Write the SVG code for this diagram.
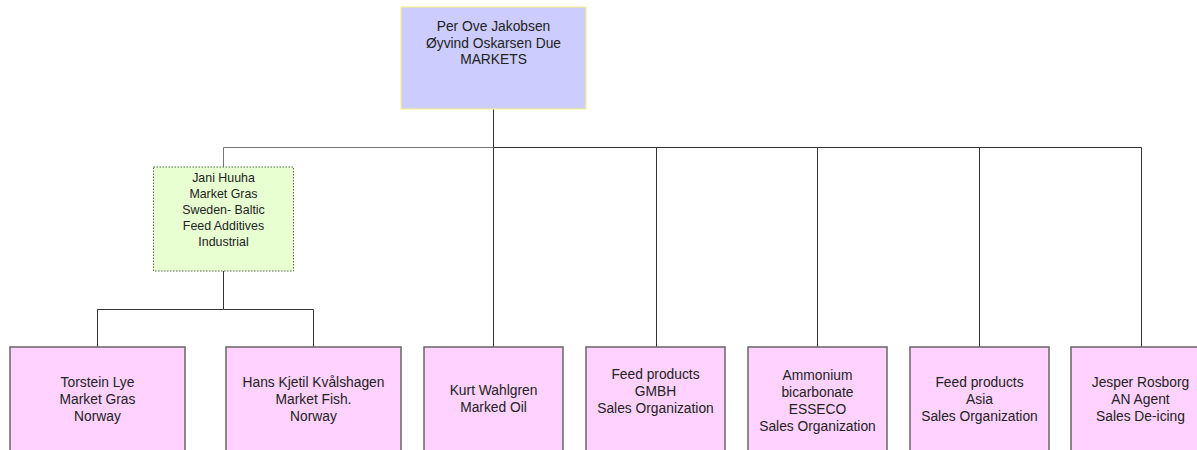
<svg xmlns="http://www.w3.org/2000/svg" width="1197" height="450" viewBox="0 0 1197 450">
<style>
text{font-family:"Liberation Sans",Arial,sans-serif;fill:#222;text-anchor:middle}
.big{font-size:13.8px}
.small{font-size:12.4px}
.top{fill:#ccccff;stroke:#f5f08c;stroke-width:1.2}
.mid{fill:#e8ffd2;stroke:#4f6b3a;stroke-width:1;stroke-dasharray:1.5 1.5}
.leaf{fill:#ffd2ff;stroke:#666;stroke-width:1.5}
.c{fill:none;stroke:#333;stroke-width:1}
.cg{fill:none;stroke:#777;stroke-width:1}
</style>
<rect width="1197" height="450" fill="#fff"/>
<g id="connectors">
<path class="c" d="M493.5 109V147.5H1141.5V347"/>
<path class="cg" d="M493.5 147.5H223.5V167"/>
<path class="c" d="M493.5 147.5V347"/>
<path class="c" d="M656.5 147.5V347"/>
<path class="c" d="M817.5 147.5V347"/>
<path class="c" d="M979.5 147.5V347"/>
<path class="c" d="M223.5 271V309.5H97.5V347"/>
<path class="c" d="M223.5 309.5H313.5V347"/>
</g>
<g id="n-top">
<rect class="top" x="401" y="7" width="185" height="102"/>
<text class="big" x="493.5" y="31">Per Ove Jakobsen</text>
<text class="big" x="493.5" y="47.5">Øyvind Oskarsen Due</text>
<text class="big" x="493.5" y="64">MARKETS</text>
</g>
<g id="n-jani">
<rect class="mid" x="153.5" y="167" width="140" height="104"/>
<text class="small" x="223.5" y="182">Jani Huuha</text>
<text class="small" x="223.5" y="198">Market Gras</text>
<text class="small" x="223.5" y="214">Sweden- Baltic</text>
<text class="small" x="223.5" y="230">Feed Additives</text>
<text class="small" x="223.5" y="246">Industrial</text>
</g>
<g id="n-torstein">
<rect class="leaf" x="10" y="347" width="175" height="104"/>
<text class="big" x="97.5" y="386.5">Torstein Lye</text>
<text class="big" x="97.5" y="403.5">Market Gras</text>
<text class="big" x="97.5" y="420.5">Norway</text>
</g>
<g id="n-hans">
<rect class="leaf" x="226" y="347" width="175" height="104"/>
<text class="big" x="313.5" y="386.5">Hans Kjetil Kvålshagen</text>
<text class="big" x="313.5" y="403.5">Market Fish.</text>
<text class="big" x="313.5" y="420.5">Norway</text>
</g>
<g id="n-kurt">
<rect class="leaf" x="424" y="347" width="139" height="104"/>
<text class="big" x="493.5" y="395">Kurt Wahlgren</text>
<text class="big" x="493.5" y="412">Marked Oil</text>
</g>
<g id="n-gmbh">
<rect class="leaf" x="586" y="347" width="139" height="104"/>
<text class="big" x="655.5" y="378.5">Feed products</text>
<text class="big" x="655.5" y="395.5">GMBH</text>
<text class="big" x="655.5" y="412.5">Sales Organization</text>
</g>
<g id="n-ammonium">
<rect class="leaf" x="748" y="347" width="139" height="104"/>
<text class="big" x="817.5" y="379.5">Ammonium</text>
<text class="big" x="817.5" y="396.5">bicarbonate</text>
<text class="big" x="817.5" y="413.5">ESSECO</text>
<text class="big" x="817.5" y="430.5">Sales Organization</text>
</g>
<g id="n-asia">
<rect class="leaf" x="910" y="347" width="139" height="104"/>
<text class="big" x="979.5" y="386.5">Feed products</text>
<text class="big" x="979.5" y="403.5">Asia</text>
<text class="big" x="979.5" y="420.5">Sales Organization</text>
</g>
<g id="n-jesper">
<rect class="leaf" x="1071" y="347" width="139" height="104"/>
<text class="big" x="1140.5" y="386.5">Jesper Rosborg</text>
<text class="big" x="1140.5" y="403.5">AN Agent</text>
<text class="big" x="1140.5" y="420.5">Sales De-icing</text>
</g>
</svg>
